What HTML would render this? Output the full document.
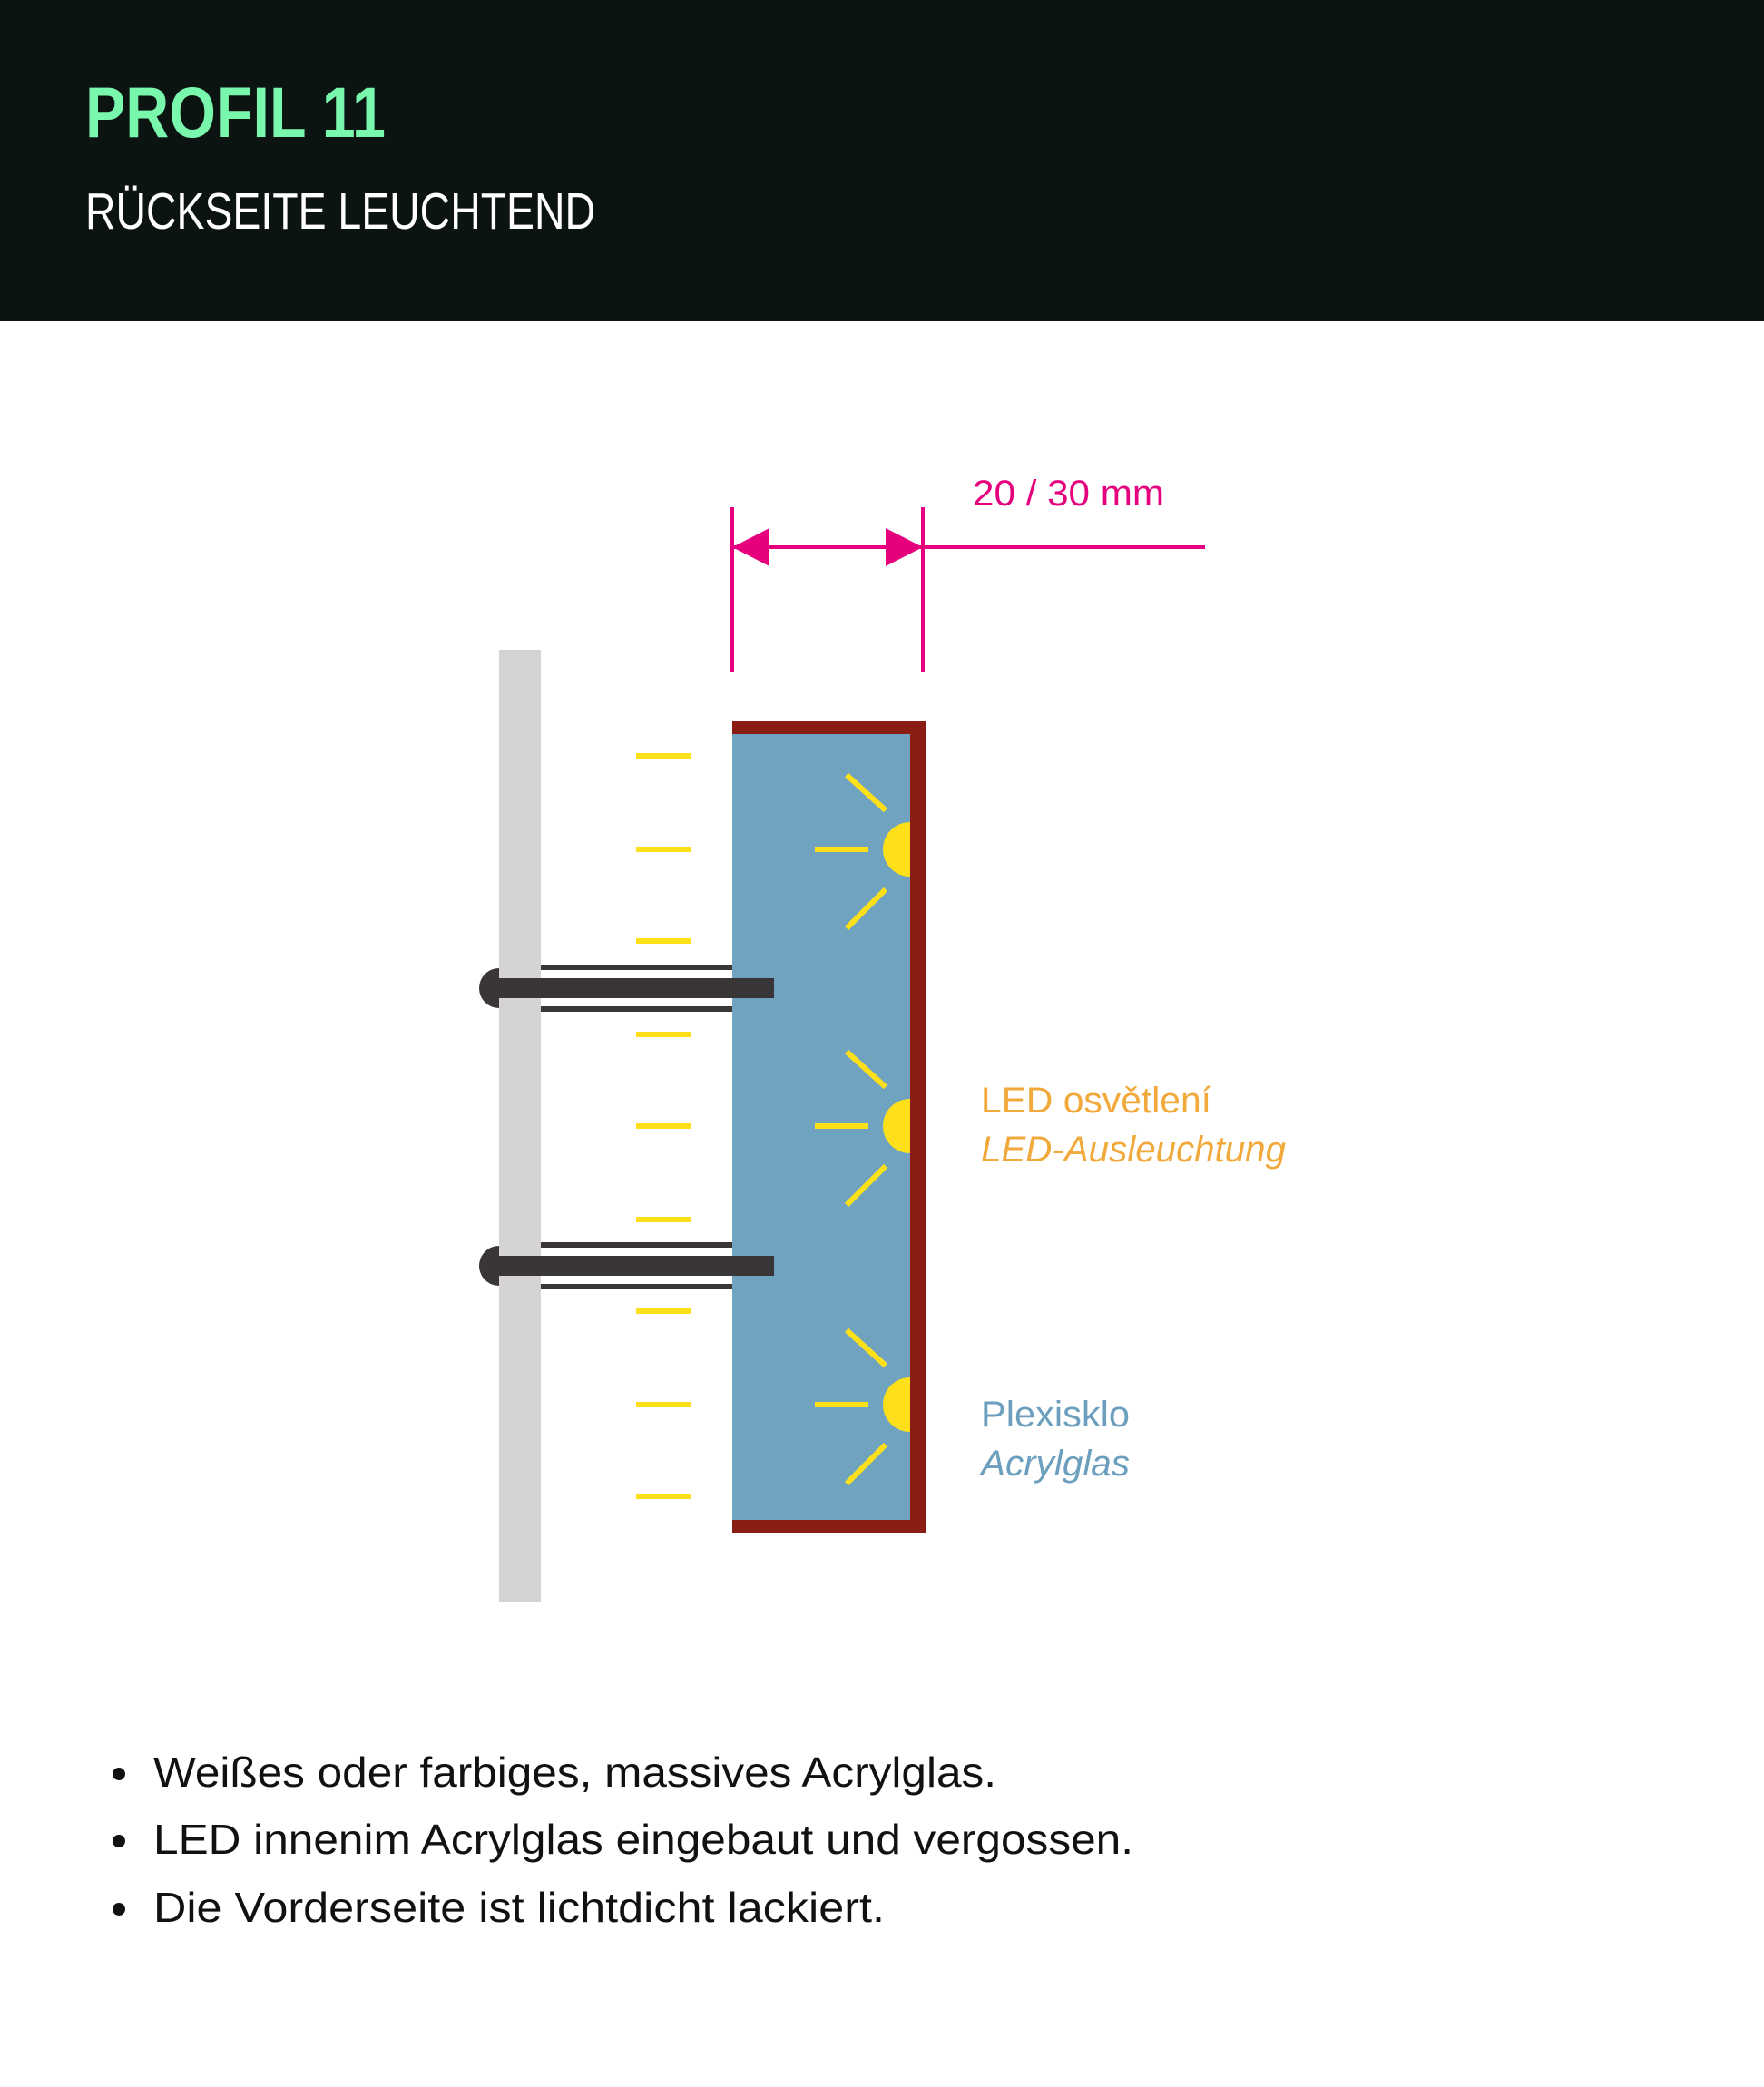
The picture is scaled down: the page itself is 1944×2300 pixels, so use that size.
<!DOCTYPE html>
<html><head><meta charset="utf-8"><style>html,body{margin:0;padding:0;background:#fff}svg{display:block}</style></head>
<body>
<svg width="1944" height="2300" viewBox="0 0 1944 2300" xmlns="http://www.w3.org/2000/svg" font-family="Liberation Sans, sans-serif">
<rect x="0" y="0" width="1944" height="354" fill="#0b1411"/>
<text x="94" y="151" font-size="79" font-weight="bold" fill="#79f7ad" textLength="331" lengthAdjust="spacingAndGlyphs">PROFIL 11</text>
<text x="94" y="252" font-size="57" fill="#ffffff" textLength="562" lengthAdjust="spacingAndGlyphs">RÜCKSEITE LEUCHTEND</text>

<!-- dimension -->
<g stroke="#e6007e" stroke-width="4" fill="none">
<line x1="807" y1="559" x2="807" y2="741"/>
<line x1="1017" y1="559" x2="1017" y2="741"/>
<line x1="807" y1="603" x2="1328" y2="603"/>
</g>
<polygon points="807,603 848,582 848,624" fill="#e6007e"/>
<polygon points="1017,603 976,582 976,624" fill="#e6007e"/>
<text x="1072" y="557" font-size="40" fill="#e6007e" textLength="211" lengthAdjust="spacingAndGlyphs">20 / 30 mm</text>

<!-- wall -->
<rect x="550" y="716" width="46" height="1050" fill="#d5d3d4"/>

<!-- panel -->
<rect x="807" y="795" width="213" height="894" fill="#8b1c14"/>
<rect x="807" y="809" width="196" height="866" fill="#6fa3bf"/>

<!-- left yellow dashes -->
<g stroke="#fde01a" stroke-width="6">
<line x1="701" y1="833" x2="762" y2="833"/>
<line x1="701" y1="936" x2="762" y2="936"/>
<line x1="701" y1="1037" x2="762" y2="1037"/>
<line x1="701" y1="1140" x2="762" y2="1140"/>
<line x1="701" y1="1241" x2="762" y2="1241"/>
<line x1="701" y1="1344" x2="762" y2="1344"/>
<line x1="701" y1="1445" x2="762" y2="1445"/>
<line x1="701" y1="1548" x2="762" y2="1548"/>
<line x1="701" y1="1649" x2="762" y2="1649"/>
</g>

<!-- LEDs -->
<g fill="#fde01a" stroke="#fde01a" stroke-width="6">
<g transform="translate(0,936)">
<path d="M1003,-30 A30,30 0 0 0 1003,30 Z" stroke="none"/>
<line x1="898" y1="0" x2="957" y2="0"/>
<line x1="933" y1="-82" x2="976" y2="-43"/>
<line x1="976" y1="44" x2="933" y2="87"/>
</g>
<g transform="translate(0,1241)">
<path d="M1003,-30 A30,30 0 0 0 1003,30 Z" stroke="none"/>
<line x1="898" y1="0" x2="957" y2="0"/>
<line x1="933" y1="-82" x2="976" y2="-43"/>
<line x1="976" y1="44" x2="933" y2="87"/>
</g>
<g transform="translate(0,1548)">
<path d="M1003,-30 A30,30 0 0 0 1003,30 Z" stroke="none"/>
<line x1="898" y1="0" x2="957" y2="0"/>
<line x1="933" y1="-82" x2="976" y2="-43"/>
<line x1="976" y1="44" x2="933" y2="87"/>
</g>
</g>

<!-- bolts -->
<g fill="#3a3637">
<g transform="translate(0,1089)">
<path d="M550,-22 A22,22 0 0 0 550,22 Z"/>
<rect x="549" y="-11" width="304" height="22"/>
<rect x="596" y="-26" width="211" height="6"/>
<rect x="596" y="20" width="211" height="6"/>
</g>
<g transform="translate(0,1395)">
<path d="M550,-22 A22,22 0 0 0 550,22 Z"/>
<rect x="549" y="-11" width="304" height="22"/>
<rect x="596" y="-26" width="211" height="6"/>
<rect x="596" y="20" width="211" height="6"/>
</g>
</g>

<!-- labels -->
<text x="1081" y="1226" font-size="40" fill="#f2a93b" textLength="254" lengthAdjust="spacingAndGlyphs">LED osvětlení</text>
<text x="1081" y="1280" font-size="40" font-style="italic" fill="#f2a93b" textLength="336" lengthAdjust="spacingAndGlyphs">LED-Ausleuchtung</text>
<text x="1081" y="1572" font-size="40" fill="#6b9fbd" textLength="164" lengthAdjust="spacingAndGlyphs">Plexisklo</text>
<text x="1081" y="1626" font-size="40" font-style="italic" fill="#6b9fbd" textLength="164" lengthAdjust="spacingAndGlyphs">Acrylglas</text>

<!-- bullets -->
<g font-size="46" fill="#111">
<circle cx="131" cy="1955" r="7"/>
<text x="169" y="1969" textLength="929" lengthAdjust="spacingAndGlyphs">Weißes oder farbiges, massives Acrylglas.</text>
<circle cx="131" cy="2029" r="7"/>
<text x="169" y="2043" textLength="1080" lengthAdjust="spacingAndGlyphs">LED innenim Acrylglas eingebaut und vergossen.</text>
<circle cx="131" cy="2104" r="7"/>
<text x="169" y="2118" textLength="806" lengthAdjust="spacingAndGlyphs">Die Vorderseite ist lichtdicht lackiert.</text>
</g>
</svg>
</body></html>
